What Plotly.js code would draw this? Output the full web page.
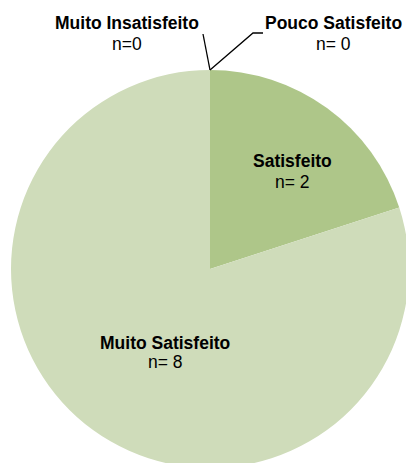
<!DOCTYPE html>
<html>
<head>
<meta charset="utf-8">
<script src="https://cdn.plot.ly/plotly-3.0.1.min.js"></script>
<style>
html,body{margin:0;padding:0;overflow:hidden;background:#fff;}
#chart{width:420px;height:480px;}
</style>
</head>
<body>
<div id="chart"></div>
<script>
// Data
const categories = ["Muito Insatisfeito", "Pouco Satisfeito", "Satisfeito", "Muito Satisfeito"];
const values = [0, 0, 2, 8];
const countPrefix = ["n=", "n= ", "n= ", "n= "];
const colors = ["#8fae5f", "#9bb86e", "#aec689", "#cfdcba"];

const W = 420, H = 480;
const px = x => x / W;
const py = y => 1 - y / H;

// label anchor positions (pixels): [x, first line y, second line y]
const labelPos = [[127, 23, 44], [333, 23, 44], [292, 161, 182], [165, 343, 362]];
const FONT = {family: 'Liberation Sans, Arial, sans-serif', size: 17.5, color: '#000'};

const annotations = [];
categories.forEach((c, i) => {
  annotations.push({
    xref: 'paper', yref: 'paper',
    x: px(labelPos[i][0]), y: py(labelPos[i][1]),
    xanchor: 'center', yanchor: 'middle', showarrow: false,
    text: '<b>' + c + '</b>', font: FONT
  });
  annotations.push({
    xref: 'paper', yref: 'paper',
    x: px(labelPos[i][0]), y: py(labelPos[i][2]),
    xanchor: 'center', yanchor: 'middle', showarrow: false,
    text: countPrefix[i] + values[i], font: FONT
  });
});

const shapes = [
  {type: 'path', xref: 'paper', yref: 'paper',
   path: `M ${px(210)} ${py(70)} L ${px(203)} ${py(34)}`,
   line: {color: '#000', width: 1.3}},
  {type: 'path', xref: 'paper', yref: 'paper',
   path: `M ${px(210)} ${py(70)} L ${px(253)} ${py(33)} L ${px(263)} ${py(33)}`,
   line: {color: '#000', width: 1.3}}
];

const trace = {
  type: 'pie',
  labels: categories,
  values: values,
  sort: false,
  direction: 'clockwise',
  rotation: 0,
  textinfo: 'none',
  hoverinfo: 'label+value',
  marker: {colors: colors, line: {width: 0}},
  domain: {x: [px(11), px(409)], y: [py(468), py(70)]},
  showlegend: false
};

Plotly.newPlot('chart', [trace], {
  width: W, height: H,
  margin: {l: 0, r: 0, t: 0, b: 0},
  paper_bgcolor: '#fff',
  showlegend: false,
  annotations: annotations,
  shapes: shapes
}, {staticPlot: true, displayModeBar: false});
</script>
</body>
</html>
